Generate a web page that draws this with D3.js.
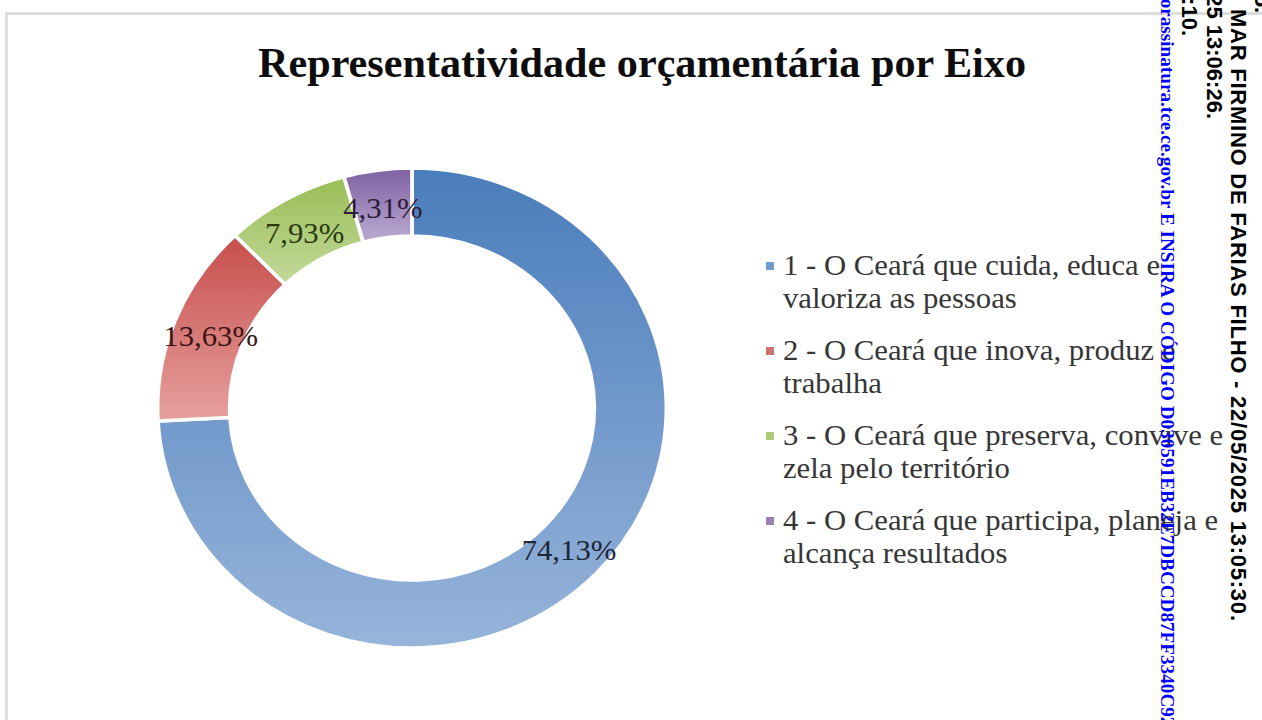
<!DOCTYPE html>
<head>
    <meta charset="utf-8">
    <script src="https://d3js.org/d3.v7.min.js"></script>
    <style>
        body { margin: 0; background: #fff; }
    </style>
</head>

<body>
    <svg width="1262" height="720"></svg>

    <script>
        // chart data
        const title = "Representatividade orçamentária por Eixo"
        const eixos = ["1", "2", "3", "4"]
        const valores = [74.13, 13.63, 7.93, 4.31]
        const rotulos = ["74,13%", "13,63%", "7,93%", "4,31%"]
        const legenda = [
            ["1 - O Ceará que cuida, educa e", "valoriza as pessoas"],
            ["2 - O Ceará que inova, produz e", "trabalha"],
            ["3 - O Ceará que preserva, convive e", "zela pelo território"],
            ["4 - O Ceará que participa, planeja e", "alcança resultados"]
        ]
        // stamp text printed over the page (rotated)
        const carimbo = [
            "5.",
            "MAR FIRMINO DE FARIAS FILHO - 22/05/2025 13:05:30.",
            "25 13:06:26.",
            "2:10."
        ]
        const linkTexto = "dorassinatura.tce.ce.gov.br E INSIRA O CÓDIGO D030591EB32E7DBCCD87FF3340C922"

        const cores = ["#4f81bd", "#c0504d", "#9bbb59", "#8064a2"]
        const coresTopo = ["#4a7dbb", "#c64e4b", "#98bd55", "#7d60a2"]
        const coresBase = ["#97b4da", "#e6a09e", "#c3d99a", "#bcaad2"]
        const corRotulo = ["#1c2636", "#3a1414", "#2b3a12", "#2a1d3a"]

        let svg = d3.select("svg")

        // frame of the pasted chart
        svg.append("path")
            .attr("d", "M6.5,720 V13.5 H1262")
            .attr("fill", "none")
            .attr("stroke", "#dddddd")
            .attr("stroke-width", 3)

        svg.append("text")
            .attr("x", 642)
            .attr("y", 77)
            .attr("text-anchor", "middle")
            .attr("font-family", "Liberation Serif, Times New Roman, serif")
            .attr("font-weight", "bold")
            .attr("font-size", 43)
            .attr("textLength", 768)
            .attr("lengthAdjust", "spacingAndGlyphs")
            .attr("fill", "#0d0d0d")
            .text(title)

        // gradients
        let defs = svg.append("defs")
        eixos.forEach((e, i) => {
            let g = defs.append("linearGradient")
                .attr("id", "grad" + i)
                .attr("x1", 0).attr("y1", 0)
                .attr("x2", 0).attr("y2", 1)
            g.append("stop").attr("offset", "0%").attr("stop-color", coresTopo[i])
            g.append("stop").attr("offset", "100%").attr("stop-color", coresBase[i])
        })

        const pie = d3.pie().sort(null).value(d => d)
        const arc = d3.arc().innerRadius(172).outerRadius(240)
        const arcLabel = d3.arc().innerRadius(204).outerRadius(204)

        let donut = svg.append("g")
            .attr("transform", "translate(412,408) scale(1.06,1)")

        donut.selectAll("path.fatia")
            .data(pie(valores))
            .enter()
            .append("path")
            .attr("class", "fatia")
            .attr("d", arc)
            .attr("fill", (d, i) => `url(#grad${i})`)
            .attr("stroke", "#fff")
            .attr("stroke-width", 3.5)

        donut.selectAll("text.rotulo")
            .data(pie(valores))
            .enter()
            .append("text")
            .attr("class", "rotulo")
            .attr("x", d => arcLabel.centroid(d)[0])
            .attr("y", d => arcLabel.centroid(d)[1])
            .attr("dy", "0.42em")
            .attr("text-anchor", "middle")
            .attr("font-family", "Liberation Serif, Times New Roman, serif")
            .attr("font-size", 29)
            .attr("fill", (d, i) => corRotulo[i])
            .text((d, i) => rotulos[i])

        // legend
        const yItem = d3.scalePoint().domain(eixos).range([275, 530])
        let leg = svg.append("g")
            .attr("transform", "translate(766,0) scale(1.06,1)")

        leg.selectAll("rect")
            .data(eixos)
            .enter()
            .append("rect")
            .attr("x", 0)
            .attr("y", d => yItem(d) - 13)
            .attr("width", 7.5)
            .attr("height", 8)
            .attr("fill", (d, i) => cores[i])
            .attr("opacity", 0.8)

        leg.selectAll("text")
            .data(eixos)
            .enter()
            .append("text")
            .attr("font-family", "Liberation Serif, Times New Roman, serif")
            .attr("font-size", 29)
            .attr("fill", "#363636")
            .each(function (d, i) {
                d3.select(this).selectAll("tspan")
                    .data(legenda[i])
                    .enter()
                    .append("tspan")
                    .attr("x", 16)
                    .attr("y", (l, j) => yItem(d) + j * 33)
                    .text(l => l)
            })

        // rotated stamp on the right edge
        const colunas = [1255, 1231, 1207, 1182]
        const inicio = [null, 9, null, null]
        const fim = [13, null, 119, 36]
        const comprimento = [null, 612, null, null]
        carimbo.forEach((t, i) => {
            let y = inicio[i] !== null ? inicio[i] : fim[i]
            let txt = svg.append("text")
                .attr("transform", `translate(${colunas[i]},${y}) rotate(90)`)
                .attr("text-anchor", inicio[i] !== null ? "start" : "end")
                .attr("font-family", "Liberation Sans, Arial, sans-serif")
                .attr("font-weight", "bold")
                .attr("font-size", 22)
                .attr("fill", "#000")
                .text(t)
            if (comprimento[i]) txt.attr("textLength", comprimento[i])
        })

        svg.append("text")
            .attr("transform", "translate(1161,-12) rotate(90)")
            .attr("font-family", "Liberation Serif, Times New Roman, serif")
            .attr("font-weight", "bold")
            .attr("font-size", 19)
            .attr("fill", "#0000ff")
            .attr("textLength", 748)
            .attr("lengthAdjust", "spacingAndGlyphs")
            .text(linkTexto)
    </script>
</body>
